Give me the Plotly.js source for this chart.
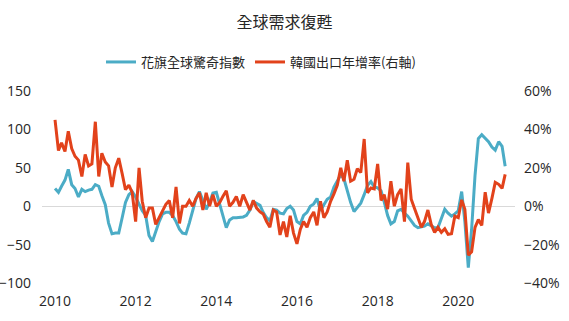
<!DOCTYPE html>
<html>
<head>
<meta charset="utf-8">
<script src="https://cdn.plot.ly/plotly-3.0.1.min.js"></script>
<style>html,body{margin:0;padding:0;background:#fff;}#chart{width:569px;height:321px;}</style>
</head>
<body>
<div id="chart"></div>
<script>
// Monthly series, Jan 2010 .. Mar 2021
const startYear = 2010;
const startMonth = 1;
const seriesNames = ["花旗全球驚奇指數", "韓國出口年增率(右軸)"];
const xTickYears = [2010, 2012, 2014, 2016, 2018, 2020];

// Citi Global Economic Surprise Index (left axis)
const citiSurprise = [
  23, 18, 26, 34, 48, 28, 23, 12, 22, 19, 21, 22,        // 2010
  28, 26, 14, 2, -22, -36, -35, -35, -15, 5, 15, 19,     // 2011
  12, 2, -6, -12, -38, -46, -33, -20, -10, -8, -8, -12,  // 2012
  -20, -30, -35, -36, -22, -5, 10, 19, 8, -4, 5, 17,     // 2013
  18, 2, -15, -28, -18, -15, -15, -14, -14, -12, -5, 6,  // 2014
  4, 1, -8, -15, -19, -4, -5, -9, -10, -3, 0, -5,        // 2015
  -20, -23, -12, -8, 0, 3, 10, -6, 2, 9, 12, 25,         // 2016
  33, 41, 36, 20, 5, -7, -2, 4, 15, 27, 32, 25,          // 2017
  24, 20, 6, -12, -23, -20, -6, -4, -9, -13, -19, -25,   // 2018
  -28, -27, -26, -23, -26, -28, -28, -15, -4, -9, -13, -10, // 2019
  -6, 19, -20, -80, -30, 40, 88, 93, 88, 84, 77, 73,     // 2020
  84, 78, 52                                             // 2021
];

// Korea export growth YoY, % (right axis)
const koreaExports = [
  45, 29, 33, 28.5, 39, 30, 26, 24, 15.5, 27, 21, 22,    // 2010
  44, 15.5, 27.6, 23, 21, 10, 20, 25, 17, 8.6, 11, 7,    // 2011
  -8, 20, 2.6, -6, -1, -1, -9.5, -6, -3, 1, 3, -6,       // 2012
  10, -9, 0, 0, 3, 0, 4, 7, -2, 7, 0, 6,                 // 2013
  0, 2, 5, 8, 0, 2, 5, 0, 6, 2, -2, 3,                   // 2014
  -1, -3, -4, -8, -11, -2, -3, -15, -8, -16, -5, -14,    // 2015
  -19.6, -12, -8, -11, -6, -3, -10, 2.6, -6, -3, 2.5, 6.4, // 2016
  11, 20, 13, 24, 13, 14, 19.5, 17.5, 35, 7, 9.5, 9,     // 2017
  22, 3, 6, -1.5, 13, 0, 6, 9, -8, 22.7, 3.6, -1.2,      // 2018
  -6, -11, -8, -2, -9.5, -13.7, -11, -13.6, -11.7, -14.7, -14.3, -5.2, // 2019
  -6, 3.3, -1.6, -25.5, -23.7, -11, -7, -10, 7.3, -3.6, 4.1, 12.4,     // 2020
  11.4, 9.3, 16.6                                        // 2021
];

function monthLabel(i) {
  const total = (startMonth - 1) + i;
  const y = startYear + Math.floor(total / 12);
  const m = (total % 12) + 1;
  return y + "-" + String(m).padStart(2, "0") + "-01";
}
const months = citiSurprise.map((_, i) => monthLabel(i));

const cjk = '"Noto Sans CJK TC", "Noto Sans CJK SC", sans-serif';
const numFont = '"Open Sans", "Noto Sans", sans-serif';

const traces = [
  {
    x: months, y: citiSurprise, name: seriesNames[0], type: "scatter", mode: "lines",
    line: {color: "#4bacc6", width: 3}, yaxis: "y"
  },
  {
    x: months, y: koreaExports, name: seriesNames[1], type: "scatter", mode: "lines",
    line: {color: "#e2421b", width: 3}, yaxis: "y2"
  }
];

const layout = {
  width: 569, height: 321,
  paper_bgcolor: "#ffffff", plot_bgcolor: "#ffffff",
  margin: {l: 42, r: 54, t: 91, b: 38, pad: 0},
  title: {
    text: "全球需求復甦",
    font: {family: cjk, size: 16, color: "#262626"},
    x: 0.5, xref: "container", xanchor: "center",
    y: 1 - 22 / 321, yref: "container", yanchor: "middle"
  },
  showlegend: true,
  legend: {
    orientation: "h", x: 0.463, xanchor: "center", y: 1.151, yanchor: "middle",
    font: {family: cjk, size: 13, color: "#262626"},
    itemwidth: 30, bgcolor: "rgba(0,0,0,0)", traceorder: "normal"
  },
  xaxis: {
    type: "date",
    range: ["2009-09-05", "2021-05-29"],
    tickvals: xTickYears.map(y => y + "-01-01"),
    ticktext: xTickYears.map(String),
    showgrid: false, zeroline: false, showline: false, ticks: "",
    ticklabelstandoff: 8,
    tickfont: {family: numFont, size: 14, color: "#262626"}
  },
  yaxis: {
    range: [-100, 150], dtick: 50, tick0: 0,
    showgrid: false, zeroline: true, zerolinecolor: "#d9d9d9", zerolinewidth: 1,
    showline: false, ticks: "", ticklabelstandoff: 10,
    tickfont: {family: numFont, size: 14, color: "#262626"}
  },
  yaxis2: {
    range: [-40, 60], dtick: 20, tick0: 0, ticksuffix: "%",
    overlaying: "y", side: "right",
    showgrid: false, zeroline: false, showline: false, ticks: "", ticklabelstandoff: 8,
    tickfont: {family: numFont, size: 14, color: "#262626"}
  }
};

Plotly.newPlot("chart", traces, layout, {displayModeBar: false, staticPlot: true});
</script>
</body>
</html>
